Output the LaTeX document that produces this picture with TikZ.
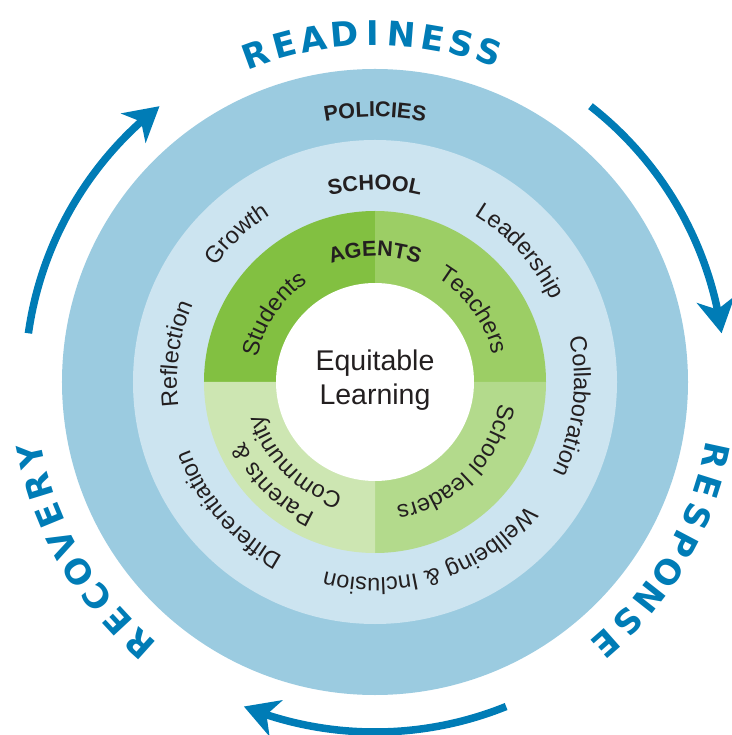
\documentclass[tikz,border=0pt]{standalone}
\usepackage{fontspec}
\setmainfont{Liberation Sans}
\newfontfamily\cyclefont{DejaVu Sans}
\usetikzlibrary{decorations.text}
\usetikzlibrary{arrows.meta,bending}

\definecolor{policyblue}{HTML}{9BCBE0}
\definecolor{schoolblue}{HTML}{CCE4F0}
\definecolor{studgreen}{HTML}{82C041}
\definecolor{teachgreen}{HTML}{9CCE65}
\definecolor{leadgreen}{HTML}{B3DA8C}
\definecolor{parentgreen}{HTML}{CDE6B2}
\definecolor{cycleblue}{HTML}{007CB6}
\definecolor{inktext}{HTML}{231F20}

% text on a clockwise arc: radius, centre angle, font, text
\newcommand{\ringtext}[4]{%
  \path[decorate,decoration={text along path,text align=center,
      text={|\color{inktext}#3|#4}}]
    ({#2+75}:#1) arc[start angle={#2+75},end angle={#2-75},radius=#1];}

\newcommand{\ringfont}{\fontsize{23.5}{23.5}\selectfont}
\newcommand{\agentfont}{\fontsize{23.5}{23.5}\selectfont}
\newcommand{\headfont}{\fontsize{21.5}{21.5}\selectfont\bfseries}

\begin{document}
\begin{tikzpicture}[x=1pt,y=1pt,
    cyclelbl/.style={text=cycleblue,font=\cyclefont\fontsize{34}{34}\selectfont\bfseries,inner sep=0pt},
    cyclearrow/.style={draw=cycleblue,line width=7.5pt,
      -{Stealth[length=34pt,width=38pt,inset=10pt]}}]
  \useasboundingbox (-375,-353) rectangle (356,382);

  % rings
  \fill[policyblue] (0,0) circle[radius=313];
  \fill[schoolblue] (0,0) circle[radius=242];
  \fill[studgreen] (0,0) -- (90:171) arc[start angle=90,end angle=180,radius=171] -- cycle;
  \fill[teachgreen] (0,0) -- (0:171) arc[start angle=0,end angle=90,radius=171] -- cycle;
  \fill[leadgreen] (0,0) -- (-90:171) arc[start angle=-90,end angle=0,radius=171] -- cycle;
  \fill[parentgreen] (0,0) -- (180:171) arc[start angle=180,end angle=270,radius=171] -- cycle;
  \fill[white] (0,0) circle[radius=99];

  \node[text=inktext,align=center,font=\fontsize{28.5}{34}\selectfont] (eq) at (0,2) {Equitable\\Learning};

  % agents
  \ringtext{126}{90}{\headfont}{AGENTS}
  \ringtext{120}{146}{\agentfont}{Students}
  \ringtext{121}{36}{\agentfont}{Teachers}
  \ringtext{126}{-45}{\agentfont}{School leaders}
  \ringtext{144}{225}{\agentfont}{Parents {\&}}
  \ringtext{117}{225}{\agentfont}{Community}

  % school
  \ringtext{192}{90}{\headfont}{SCHOOL}
  \ringtext{197}{133}{\ringfont}{Growth}
  \ringtext{194}{42}{\ringfont}{Leadership}
  \ringtext{199}{-7}{\ringfont}{Collaboration}
  \ringtext{196}{-72}{\ringfont}{Wellbeing {\&} Inclusion}
  \ringtext{197}{221}{\ringfont}{Differentiation}
  \ringtext{198}{172}{\ringfont}{Reflection}

  % policies
  \ringtext{265}{90}{\headfont}{POLICIES}

  % cycle
  \foreach \ch/\a [count=\i] in {R/110.1,E/105,A/100.2,D/95,I/90.3,N/85.6,E/80.4,S/75.6,S/71}
    \node[cyclelbl,rotate={\a-90}] (rd\i) at (\a:349) {\ch};
  \foreach \ch [count=\i from 0] in {R,E,S,P,O,N,S,E}
    \node[cyclelbl,rotate={-102.2-\i*5.2}] (rs\i) at ({-12.2-\i*5.2}:349) {\ch};
  \foreach \ch [count=\i from 0] in {R,E,C,O,V,E,R,Y}
    \node[cyclelbl,rotate={138-\i*5.13}] (rc\i) at ({228-\i*5.13}:352) {\ch};

  \draw[cyclearrow] (172:350) arc[start angle=172,end angle=128,radius=350];
  \draw[cyclearrow] (52:350) arc[start angle=52,end angle=8,radius=350];
  \draw[cyclearrow] (-68:350) arc[start angle=-68,end angle=-112,radius=350];
\end{tikzpicture}
\end{document}
